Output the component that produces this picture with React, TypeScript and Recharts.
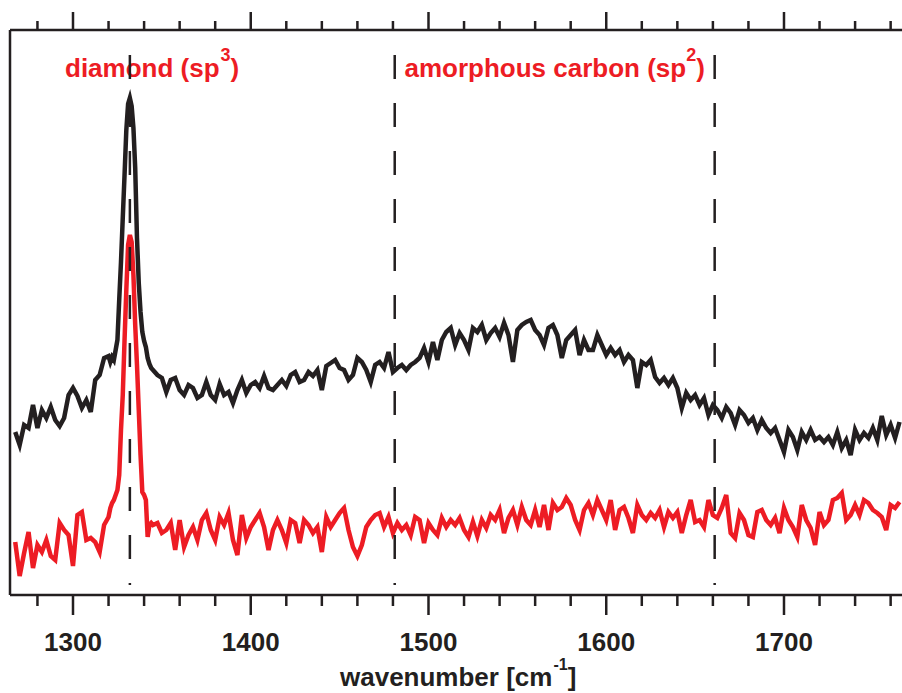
import React from 'react';
import { LineChart, Line, XAxis, YAxis, ReferenceLine, Customized } from 'recharts';

// Raman shift (cm^-1)
const wavenumbers = [
  1267.5, 1270, 1272.5, 1275, 1277.5, 1280, 1282.5, 1285, 1287.5, 1290, 1292.5, 1295, 1297.5, 1300, 1302.5, 1305,
  1307.5, 1310, 1312.5, 1315, 1317.5, 1320, 1321,
  1322, 1323, 1324, 1325, 1326, 1327, 1328, 1329, 1330, 1331, 1332, 1333, 1334, 1335, 1336, 1337, 1338, 1339, 1340,
  1341, 1342, 1343, 1344,
  1345, 1347.5, 1350, 1352.5, 1355, 1357.5, 1360, 1362.5, 1365, 1367.5,
  1370, 1372.5, 1375, 1377.5, 1380, 1382.5, 1385, 1387.5, 1390, 1392.5,
  1395, 1397.5, 1400, 1402.5, 1405, 1407.5, 1410, 1412.5, 1415, 1417.5,
  1420, 1422.5, 1425, 1427.5, 1430, 1432.5, 1435, 1437.5, 1440, 1442.5,
  1445, 1447.5, 1450, 1452.5, 1455, 1457.5, 1460, 1462.5, 1465, 1467.5,
  1470, 1472.5, 1475, 1477.5, 1480, 1482.5, 1485, 1487.5, 1490, 1492.5,
  1495, 1497.5, 1500, 1502.5, 1505, 1507.5, 1510, 1512.5, 1515, 1517.5,
  1520, 1522.5, 1525, 1527.5, 1530, 1532.5, 1535, 1537.5, 1540, 1542.5,
  1545, 1547.5, 1550, 1552.5, 1555, 1557.5, 1560, 1562.5, 1565, 1567.5,
  1570, 1572.5, 1575, 1577.5, 1580, 1582.5, 1585, 1587.5, 1590, 1592.5,
  1595, 1597.5, 1600, 1602.5, 1605, 1607.5, 1610, 1612.5, 1615, 1617.5,
  1620, 1622.5, 1625, 1627.5, 1630, 1632.5, 1635, 1637.5, 1640, 1642.5,
  1645, 1647.5, 1650, 1652.5, 1655, 1657.5, 1660, 1662.5, 1665, 1667.5,
  1670, 1672.5, 1675, 1677.5, 1680, 1682.5, 1685, 1687.5, 1690, 1692.5,
  1695, 1697.5, 1700, 1702.5, 1705, 1707.5, 1710, 1712.5, 1715, 1717.5,
  1720, 1722.5, 1725, 1727.5, 1730, 1732.5, 1735, 1737.5, 1740, 1742.5,
  1745, 1747.5, 1750, 1752.5, 1755, 1757.5, 1760, 1762.5, 1765,
];

// upper (black) spectrum, arbitrary intensity units
const upperSpectrum = [
  163, 150, 170, 167, 190, 167, 185, 177, 188, 175, 169, 177, 200, 207, 199, 187, 195, 183, 215, 220, 237, 239, 233,
  238, 235, 245, 255, 295, 333, 377, 420, 465, 491, 497, 489, 467, 427, 357, 312, 283, 263, 254, 248, 237, 231, 227,
  225, 220, 217, 203, 215, 217, 205, 200, 210, 207,
  197, 200, 213, 200, 195, 211, 200, 203, 192, 205,
  215, 202, 210, 213, 207, 219, 207, 205, 210, 215,
  209, 220, 223, 213, 215, 223, 219, 225, 205, 229,
  232, 235, 227, 225, 215, 220, 237, 233, 225, 213,
  230, 233, 227, 243, 223, 227, 230, 225, 230, 233,
  237, 247, 233, 253, 235, 255, 263, 267, 250, 262,
  255, 245, 267, 263, 270, 255, 262, 267, 258, 272,
  260, 233, 265, 270, 273, 275, 265, 260, 250, 267,
  270, 260, 237, 255, 260, 265, 240, 255, 245, 245,
  260, 250, 240, 247, 240, 245, 233, 240, 235, 207,
  233, 230, 235, 218, 212, 217, 210, 217, 207, 187,
  202, 195, 200, 190, 197, 180, 190, 185, 177, 188,
  182, 170, 185, 180, 172, 177, 165, 175, 167, 162,
  167, 155, 143, 165, 158, 145, 163, 155, 165, 155,
  158, 153, 158, 150, 163, 147, 155, 140, 165, 155,
  162, 157, 167, 155, 179, 160, 170, 157, 173,
];

// lower (red) spectrum, arbitrary intensity units
const lowerSpectrum = [
  53, 19, 42, 63, 27, 50, 43, 55, 39, 35, 72, 65, 60, 29, 80, 83, 55, 57, 53, 43, 70, 78, 87,
  92, 95, 100, 105, 120, 165, 200, 255, 305, 350, 360, 353, 320, 270, 230, 185, 140, 103, 100, 95, 58, 70, 72,
  70, 72, 62, 65, 72, 45, 75, 48, 60, 68,
  55, 75, 82, 65, 55, 78, 70, 82, 55, 40,
  80, 57, 68, 75, 82, 68, 45, 65, 75, 65,
  52, 75, 72, 52, 75, 70, 62, 68, 43, 78,
  68, 75, 82, 87, 65, 48, 39, 50, 68, 75,
  80, 82, 68, 78, 62, 72, 65, 70, 60, 78,
  75, 52, 72, 65, 60, 77, 68, 75, 70, 77,
  65, 58, 73, 59, 75, 67, 80, 75, 85, 62,
  77, 85, 70, 88, 75, 70, 85, 68, 90, 65,
  92, 85, 88, 97, 90, 75, 65, 85, 92, 80,
  95, 85, 75, 95, 65, 85, 88, 77, 62, 90,
  80, 75, 82, 77, 85, 68, 83, 77, 83, 62,
  80, 95, 73, 75, 68, 95, 80, 77, 87, 100,
  62, 57, 82, 75, 60, 58, 83, 85, 75, 70,
  77, 62, 87, 75, 68, 58, 90, 75, 67, 50,
  83, 70, 75, 95, 97, 102, 75, 80, 90, 80,
  95, 92, 85, 82, 78, 65, 90, 87, 93,
];

const tickValues = [1280, 1300, 1320, 1340, 1360, 1380, 1400, 1420, 1440, 1460, 1480, 1500, 1520, 1540, 1560, 1580,
  1600, 1620, 1640, 1660, 1680, 1700, 1720, 1740, 1760];
const labeledTicks = [1300, 1400, 1500, 1600, 1700];
const bandMarkers = [1332, 1481, 1661];

const INK = '#231f20';
const RED = '#ed1c24';
const FONT = '"Liberation Sans", Arial, Helvetica, sans-serif';

const data = wavenumbers.map((w, i) => ({ w, upper: upperSpectrum[i], lower: lowerSpectrum[i] }));

function BottomTick(props: any) {
  const { x, y, payload } = props;
  const major = labeledTicks.includes(payload.value);
  return (
    <g>
      <line x1={x} x2={x} y1={y} y2={y + (major ? 20 : 11)} stroke={INK} strokeWidth={2.5} />
      {major && (
        <text x={x} y={y + 55.5} textAnchor="middle" fontFamily={FONT} fontWeight="bold" fontSize={26} fill={INK}>
          {payload.value}
        </text>
      )}
    </g>
  );
}

function TopTick(props: any) {
  const { x, y, payload } = props;
  const major = labeledTicks.includes(payload.value);
  return <line x1={x} x2={x} y1={y} y2={y - (major ? 18 : 9)} stroke={INK} strokeWidth={2.5} />;
}

function Annotations() {
  return (
    <g fontFamily={FONT} fontWeight="bold">
      <text x={65} y={77} fontSize={26} fill={RED}>
        diamond (sp
        <tspan dx={1} dy={-16} fontSize={18}>3</tspan>
        <tspan dy={16} fontSize={26}>)</tspan>
      </text>
      <text x={404.5} y={77} fontSize={26} fill={RED}>
        amorphous carbon (sp
        <tspan dx={0} dy={-16} fontSize={18}>2</tspan>
        <tspan dy={16} fontSize={26}>)</tspan>
      </text>
      <text x={340} y={686} fontSize={26} fill={INK}>
        wavenumber [cm
        <tspan dx={1} dy={-16} fontSize={16}>-1</tspan>
        <tspan dy={16} fontSize={26}>]</tspan>
      </text>
    </g>
  );
}

const xDomain: [number, number] = [1264.56, 1766.39];

export default function App() {
  return (
    <div style={{ position: 'absolute', left: 0, top: 0, width: 902, height: 693, background: '#fff' }}>
      <LineChart width={902} height={693} data={data} margin={{ top: 29, right: 0, bottom: 0, left: 9 }}>
        <XAxis
          dataKey="w"
          type="number"
          domain={xDomain}
          allowDataOverflow
          ticks={tickValues}
          interval={0}
          tick={<BottomTick />}
          tickLine={false}
          tickSize={0}
          tickMargin={0}
          height={98}
          axisLine={{ stroke: INK, strokeWidth: 2.5 }}
        />
        <XAxis
          xAxisId="top"
          orientation="top"
          dataKey="w"
          type="number"
          domain={xDomain}
          allowDataOverflow
          ticks={tickValues}
          interval={0}
          tick={<TopTick />}
          tickLine={false}
          tickSize={0}
          tickMargin={0}
          height={1}
          axisLine={{ stroke: INK, strokeWidth: 2.5 }}
        />
        <YAxis
          domain={[0, 565]}
          allowDataOverflow
          tick={false}
          tickLine={false}
          width={1}
          axisLine={{ stroke: INK, strokeWidth: 2.5 }}
        />
        <Line
          type="linear"
          dataKey="upper"
          stroke={INK}
          strokeWidth={4.5}
          strokeLinejoin="miter"
          dot={false}
          isAnimationActive={false}
        />
        <Line
          type="linear"
          dataKey="lower"
          stroke={RED}
          strokeWidth={4.5}
          strokeLinejoin="miter"
          dot={false}
          isAnimationActive={false}
        />
        {bandMarkers.map((m) => (
          <ReferenceLine
            key={m}
            segment={[{ x: m, y: 540 }, { x: m, y: 10 }]}
            stroke={INK}
            strokeWidth={2.5}
            strokeDasharray="24 24"
          />
        ))}
        <Customized component={Annotations} />
      </LineChart>
    </div>
  );
}
